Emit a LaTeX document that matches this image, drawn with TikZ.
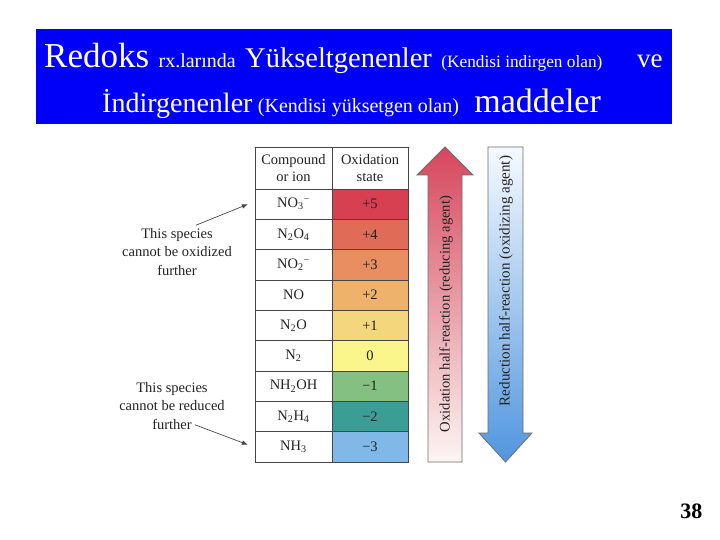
\documentclass[tikz,border=0pt]{standalone}
\usepackage{fontspec}
\setmainfont{Liberation Serif}
\usetikzlibrary{arrows.meta, positioning}

\definecolor{bannerblue}{RGB}{0,0,250}
\definecolor{gridgray}{RGB}{70,70,70}
\definecolor{ink}{RGB}{35,35,35}
\definecolor{st5}{RGB}{214,64,80}
\definecolor{st4}{RGB}{224,108,88}
\definecolor{st3}{RGB}{232,142,96}
\definecolor{st2}{RGB}{238,178,106}
\definecolor{st1}{RGB}{244,214,124}
\definecolor{st0}{RGB}{250,246,140}
\definecolor{stm1}{RGB}{132,192,130}
\definecolor{stm2}{RGB}{58,158,150}
\definecolor{stm3}{RGB}{128,184,232}
\definecolor{oxred}{RGB}{214,70,92}
\definecolor{oxpale}{RGB}{252,246,244}
\definecolor{redblue}{RGB}{80,150,222}
\definecolor{redpale}{RGB}{246,250,255}

\begin{document}
\begin{tikzpicture}[x=1pt, y=-1pt,
    title/.style = {text=white, inner sep=0pt},
    cell/.style = {draw=gridgray, line width=0.8pt, outer sep=0pt, inner sep=0pt, text=ink,
        minimum width=77pt, minimum height=30.33pt, font=\fontsize{14.5}{17}\selectfont},
    state/.style = {cell, minimum width=76pt},
    note/.style = {align=center, inner sep=0pt, text=ink, font=\fontsize{14.5}{18.5}\selectfont},
    band/.style = {draw=gray!85!black, line width=0.8pt}]
    \useasboundingbox (0,0) rectangle (720,540);
    \fill[bannerblue] (36,29) rectangle (672,124);

    \node[title, font=\fontsize{35}{40}\selectfont, anchor=base west] (redoks) at (44,68) {Redoks};
    \node[title, font=\fontsize{20}{24}\selectfont, base right=9pt of redoks] (rx) {rx.larında};
    \node[title, font=\fontsize{28.5}{32}\selectfont, base right=9pt of rx] (yukselt) {Yükseltgenenler};
    \node[title, font=\fontsize{17.3}{22}\selectfont, base right=9pt of yukselt] (kendi1) {(Kendisi indirgen olan)};
    \node[title, font=\fontsize{27}{32}\selectfont, anchor=base west] (ve) at (637,68) {ve};
    \node[title, font=\fontsize{28}{32}\selectfont, anchor=base west] (indirg) at (102,113) {İndirgenenler};
    \node[title, font=\fontsize{20}{24}\selectfont, base right=5pt of indirg] (kendi2) {(Kendisi yüksetgen olan)};
    \node[title, font=\fontsize{34}{40}\selectfont, base right=15pt of kendi2] (madde) {maddeler};

    \node[cell, align=center, minimum height=42pt] (hcomp) at (293.5,168) {Compound\\or ion};
    \node[state, align=center, minimum height=42pt, right=0pt of hcomp] (hox) {Oxidation\\state};
    \node[cell, below=0pt of hcomp] (no3) {NO\textsubscript{3}\textsuperscript{−}};
    \node[state, fill=st5, right=0pt of no3] (ox5) {+5};
    \node[cell, below=0pt of no3] (n2o4) {N\textsubscript{2}O\textsubscript{4}};
    \node[state, fill=st4, right=0pt of n2o4] (ox4) {+4};
    \node[cell, below=0pt of n2o4] (no2) {NO\textsubscript{2}\textsuperscript{−}};
    \node[state, fill=st3, right=0pt of no2] (ox3) {+3};
    \node[cell, below=0pt of no2] (no) {NO};
    \node[state, fill=st2, right=0pt of no] (ox2) {+2};
    \node[cell, below=0pt of no] (n2o) {N\textsubscript{2}O};
    \node[state, fill=st1, right=0pt of n2o] (ox1) {+1};
    \node[cell, below=0pt of n2o] (n2) {N\textsubscript{2}};
    \node[state, fill=st0, right=0pt of n2] (ox0) {0};
    \node[cell, below=0pt of n2] (nh2oh) {NH\textsubscript{2}OH};
    \node[state, fill=stm1, right=0pt of nh2oh] (oxm1) {−1};
    \node[cell, below=0pt of nh2oh] (n2h4) {N\textsubscript{2}H\textsubscript{4}};
    \node[state, fill=stm2, right=0pt of n2h4] (oxm2) {−2};
    \node[cell, below=0pt of n2h4] (nh3) {NH\textsubscript{3}};
    \node[state, fill=stm3, right=0pt of nh3] (oxm3) {−3};

    \shadedraw[band, top color=oxred, bottom color=oxpale]
        (428,462) -- (428,175) -- (417,175) -- (445,147) -- (473,175) -- (462,175) -- (462,462) -- cycle;
    \shadedraw[band, top color=redpale, bottom color=redblue]
        (488,147) -- (523,147) -- (523,433) -- (532,433) -- (505.5,462) -- (479,433) -- (488,433) -- cycle;
    \node[rotate=90, text=ink, font=\fontsize{14.6}{17}\selectfont] (oxlabel) at (446,314) {Oxidation half-reaction (reducing agent)};
    \node[rotate=90, text=ink, font=\fontsize{15.1}{17}\selectfont] (redlabel) at (506,281) {Reduction half-reaction (oxidizing agent)};

    \node[note] (oxnote) at (177,252) {This species\\cannot be oxidized\\further};
    \node[note] (rednote) at (172,406) {This species\\cannot be reduced\\further};
    \draw[-Latex, gridgray, line width=0.7pt] ([xshift=19pt,yshift=3pt]oxnote.north) -- ([xshift=-7pt]no3.west);
    \draw[-Latex, gridgray, line width=0.7pt] ([xshift=23pt,yshift=5pt]rednote.south) -- ([xshift=-7pt,yshift=2pt]nh3.west);

    \node[font=\bfseries\fontsize{22}{26}\selectfont, anchor=base east] (pagenum) at (706,518) {38};
\end{tikzpicture}
\end{document}
